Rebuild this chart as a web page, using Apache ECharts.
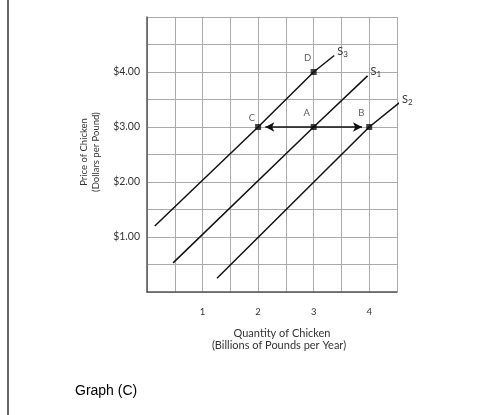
<!DOCTYPE html>
<html><head><meta charset="utf-8">
<script src="https://cdn.jsdelivr.net/npm/echarts@6/dist/echarts.min.js"></script>
<style>html,body{margin:0;padding:0;background:#fff;}#c{width:492px;height:415px;}</style>
</head><body><div id="c"></div>
<script>
// Data
const xTicks = [1, 2, 3, 4];
const yTicks = [1, 2, 3, 4];
const yTickLabels = ['$1.00', '$2.00', '$3.00', '$4.00'];
const S3 = [[0.14, 1.2], [2, 3], [3, 4], [3.37, 4.3]];
const S1 = [[0.47, 0.53], [3, 3], [3.97, 3.93]];
const S2 = [[1.26, 0.25], [4, 3], [4.64, 3.52]];
const pointNames = ['C', 'A', 'B', 'D'];
const points = [[2, 3], [3, 3], [4, 3], [3, 4]];
const arrowFrom = [2.13, 3];
const arrowTo = [3.87, 3];

const font = 'Lato, "DejaVu Sans", sans-serif';
const chart = echarts.init(document.getElementById('c'));

function supplySeries(name, data, sub) {
  return {
    type: 'line', name: name, silent: true, clip: false,
    data: data,
    symbol: 'none', lineStyle: { color: '#111', width: 1.5 },
    endLabel: { show: true, distance: 2, offset: [1, -4],
      formatter: '{s|S}{n|' + sub + '}',
      rich: { s: { fontFamily: font, fontSize: 11, color: '#333' },
              n: { fontFamily: font, fontSize: 8, color: '#333', padding: [6, 0, 0, 0] } } }
  };
}

const pointPos = { C: 'left', A: 'top', B: 'top', D: 'top' };
const pointOff = { C: [6, -9], A: [-7, 0], B: [-8, 0], D: [-6, 0] };

chart.setOption({
  animation: false,
  grid: { left: 147, right: 95, top: 17, bottom: 123 },
  xAxis: {
    type: 'value', min: 0, max: 4.5, interval: 0.5,
    axisLine: { show: true, onZero: false, lineStyle: { color: '#555', width: 1.5 } },
    axisTick: { show: false },
    splitLine: { show: true, lineStyle: { color: '#aaa', width: 1 } },
    axisLabel: { fontFamily: font, fontSize: 9.5, color: '#333', margin: 15,
      formatter: v => xTicks.includes(v) ? String(v) : '' }
  },
  yAxis: {
    type: 'value', min: 0, max: 5, interval: 0.5,
    axisLine: { show: true, onZero: false, lineStyle: { color: '#555', width: 1.5 } },
    axisTick: { show: false },
    splitLine: { show: true, lineStyle: { color: '#aaa', width: 1 } },
    axisLabel: { fontFamily: font, fontSize: 10.5, color: '#333', margin: 7,
      verticalAlign: 'middle', padding: [0, 0, 3, 0],
      formatter: v => { const i = yTicks.indexOf(v); return i >= 0 ? yTickLabels[i] : ''; } }
  },
  series: [
    supplySeries('S3', S3, '3'),
    supplySeries('S1', S1, '1'),
    supplySeries('S2', S2, '2'),
    {
      type: 'line', silent: true, symbol: 'none', data: [],
      markLine: {
        silent: true, symbol: ['arrow', 'arrow'], symbolSize: [7, 9],
        label: { show: false },
        lineStyle: { color: '#111', width: 1.6, type: 'solid' },
        data: [[{ coord: arrowFrom }, { coord: arrowTo }]]
      }
    },
    {
      type: 'scatter', silent: true, symbol: 'rect', symbolSize: 6,
      itemStyle: { color: '#111' },
      data: points.map((p, i) => ({
        value: p, name: pointNames[i],
        label: { show: true, formatter: pointNames[i], position: pointPos[pointNames[i]],
          distance: 6, offset: pointOff[pointNames[i]],
          fontFamily: font, fontSize: 9.5, color: '#333' }
      }))
    }
  ],
  graphic: [
    { type: 'line', shape: { x1: 8, y1: 0, x2: 8, y2: 415 }, style: { stroke: '#333', lineWidth: 1.5 } },
    { type: 'text', left: 75, top: 384, style: { text: 'Graph (C)', font: '14px Arial, "Liberation Sans", sans-serif', fill: '#000' } },
    { type: 'text', x: 282, y: 333, style: { text: 'Quantity of Chicken', font: '11px ' + font, fill: '#333', textAlign: 'center', textVerticalAlign: 'middle' } },
    { type: 'text', x: 279, y: 345, style: { text: '(Billions of Pounds per Year)', font: '11px ' + font, fill: '#333', textAlign: 'center', textVerticalAlign: 'middle' } },
    { type: 'text', x: 84, y: 152, rotation: Math.PI / 2, style: { text: 'Price of Chicken', font: '9.5px ' + font, fill: '#333', textAlign: 'center', textVerticalAlign: 'middle' } },
    { type: 'text', x: 96, y: 152, rotation: Math.PI / 2, style: { text: '(Dollars per Pound)', font: '9.5px ' + font, fill: '#333', textAlign: 'center', textVerticalAlign: 'middle' } }
  ]
});
</script>
</body></html>
